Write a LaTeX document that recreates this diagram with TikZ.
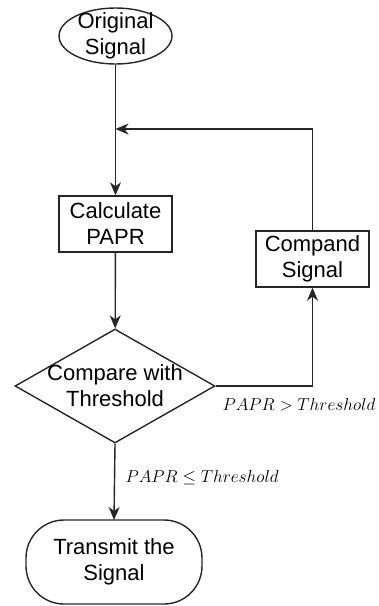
\documentclass[tikz,border=0pt]{standalone}
\usepackage{fontspec}
\setmainfont{Liberation Sans}
\usetikzlibrary{shapes.geometric,arrows.meta}
\begin{document}
\begin{tikzpicture}[x=1pt,y=-1pt,
  base/.style={draw=black!85, line width=1.4pt, align=center, inner sep=0pt,
    font=\fontsize{22}{26}\selectfont},
  caption/.style={align=center, inner sep=0pt, font=\fontsize{22}{26}\selectfont},
  oval/.style={base, ellipse, minimum width=113pt, minimum height=56pt},
  procbox/.style={base, rectangle, minimum width=113pt, minimum height=56pt},
  decision/.style={base, diamond, minimum width=200pt, minimum height=114pt, aspect=1.75},
  terminal/.style={base, rectangle, rounded corners=38pt, minimum width=176pt, minimum height=84pt},
  flow/.style={draw=black!85, line width=1.4pt, -{Stealth[length=13pt,width=11pt,inset=4pt]}},
  cond/.style={font=\fontsize{18.5}{20}\selectfont}]
\useasboundingbox (0,0) rectangle (379,606);
\node[oval] (orig) at (115.5,36) {};
\node[caption] at (orig) {Original\\Signal};
\node[procbox] (calc) at (115.5,224) {Calculate\\PAPR};
\node[decision] (cmp) at (115,386) {};
\node[caption] at (cmp) {Compare with\\Threshold};
\node[procbox] (comp) at (312.5,259) {Compand\\Signal};
\node[terminal] (tx) at (114,562) {Transmit the\\Signal};
\coordinate (join) at (115.5,129);
\coordinate (turn) at (312.5,129);
\coordinate (corner) at (312.5,386);
\draw[flow] (orig) -- (calc);
\draw[flow] (calc) -- (cmp);
\draw[flow] (cmp.east) -- (corner) -- (comp.south);
\draw[flow] (comp.north) -- (turn) -- (join);
\draw[flow] (cmp.south) -- (tx.north |- 0,520);
\node[cond, anchor=west] (gt) at (219,405) {$PAPR > Threshold$};
\node[cond, anchor=west] (le) at (122,478) {$PAPR \leq Threshold$};
\end{tikzpicture}
\end{document}
